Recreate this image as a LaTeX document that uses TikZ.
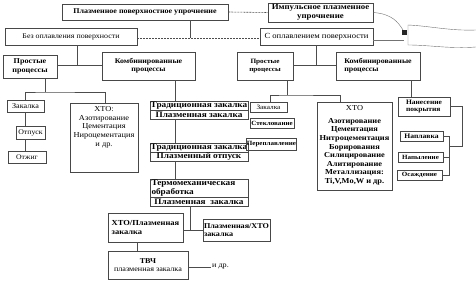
\documentclass[tikz,border=0pt]{standalone}
\usepackage{fontspec}
\setmainfont[FakeStretch=1.1]{Liberation Serif}
\newcommand\F[1]{\fontsize{#1}{\the\dimexpr #1pt*115/100\relax}\selectfont}
\newcommand\FB[1]{\fontsize{#1}{\the\dimexpr #1pt*115/100\relax}\selectfont\bfseries}
\begin{document}
\begin{tikzpicture}[x=1pt,y=-1pt,
  box/.style={draw=black!72, line width=0.9pt, inner sep=0.3pt, align=center},
  conn/.style={draw=black!70, line width=0.6pt},
  dconn/.style={conn, dash pattern=on 2pt off 1pt},
  scrib/.style={draw=black!55, line width=0.4pt}]
\fill[white] (0,0) rectangle (476,281);
\useasboundingbox (0,0) rectangle (476,281);

% top level
\node[box, font=\FB{7.3}, minimum width=166pt, minimum height=16pt] (top) at (145,12) {Плазменное поверхностное упрочнение};
\node[box, font=\FB{8}, minimum width=105pt, minimum height=19pt] (imp) at (320.5,12.5) {Импульсное плазменное\\упрочнение};
\node[box, font=\F{7.2}, minimum width=132pt, minimum height=17pt] (bez) at (71,36.5) {Без оплавления поверхности};
\node[box, font=\F{7.8}, minimum width=113pt, minimum height=17pt] (sopl) at (316.5,36.5) {С оплавлением поверхности};

\draw[dconn] (top.east) -- (imp.west);
\coordinate (j1) at (190,38);
\draw[conn] (top.south -| j1) -- (j1);
\draw[dconn] (bez.east |- j1) -- (sopl.west |- j1);

% second level
\node[box, font=\FB{7.4}, minimum width=54pt, minimum height=23pt] (lprost) at (30,66.5) {Простые\\процессы};
\node[box, font=\FB{7.2}, minimum width=93pt, minimum height=28pt] (lkomb) at (148.5,66) {Комбинированные\\процессы};
\node[box, font=\FB{6.6}, minimum width=56pt, minimum height=28pt] (rprost) at (265,66) {Простые\\процессы};
\node[box, font=\FB{7.2}, minimum width=84pt, minimum height=28pt, align=left] (rkomb) at (378,66) {Комбинированные\\процессы};

\coordinate (j2) at (77,65);
\draw[conn] (bez.south -| j2) -- (j2);
\draw[conn] (lprost.east |- j2) -- (lkomb.west |- j2);
\coordinate (j3) at (316,65);
\draw[conn] (sopl.south -| j3) -- (j3);
\draw[conn] (rprost.east |- j3) -- (rkomb.west |- j3);

% left simple processes
\node[box, font=\F{7.4}, minimum width=37pt, minimum height=12pt] (lzak) at (25.5,106) {Закалка};
\node[box, font=\F{7.1}, minimum width=29pt, minimum height=13pt] (lotp) at (30.5,132.5) {Отпуск};
\node[box, font=\F{7}, minimum width=38pt, minimum height=12pt] (lotzh) at (27,157) {Отжиг};
\node[box, minimum width=68pt, minimum height=69pt,
      label={[anchor=north, align=center, inner sep=0pt, yshift=-4pt, font=\fontsize{7.6}{8.6}\selectfont]north:ХТО:\\Азотирование\\Цементация\\Нироцементация\\и др.}] (lxto) at (104,137.5) {};

\coordinate (j4) at (45,92);
\draw[conn] (lprost.south -| j4) -- (j4);
\draw[conn] (lzak.north -| 25,0) |- (j4) -| (lxto.north -| 105,0);
\draw[conn] (lzak.south -| 25,0) -- (lotp.north -| 25,0);
\draw[conn] (lotp.south -| 25,0) -- (lotzh.north -| 25,0);

% combined stacks
\node[box, font=\FB{8.4}, minimum width=98pt, minimum height=9pt] (t1a) at (199,105.5) {Традиционная закалка};
\node[box, font=\FB{8.4}, minimum width=98pt, minimum height=9pt] (t1b) at (199,114.5) {Плазменная закалка};
\node[box, font=\FB{8.4}, minimum width=98pt, minimum height=9pt] (t2a) at (199,147.5) {Традиционная закалка};
\node[box, font=\FB{8.4}, minimum width=98pt, minimum height=9pt] (t2b) at (199,156.5) {Плазменный отпуск};
\node[box, font=\fontsize{8.4}{8.6}\selectfont\bfseries, minimum width=98pt, minimum height=18pt, align=left, text width=95pt] (t3a) at (199,188) {Термомеханическая\\обработка};
\node[box, font=\FB{8.4}, minimum width=98pt, minimum height=9pt] (t3b) at (199,201.5) {Плазменная\ \ закалка};

\draw[conn] (lkomb.south -| 175,0) -- (t1a.north -| 175,0);
\draw[conn] (t1b.south -| 175,0) -- (t2a.north -| 175,0);
\draw[conn] (t2b.south -| 175,0) -- (t3a.north -| 175,0);

\node[box, font=\FB{7.7}, minimum width=75pt, minimum height=29pt, align=left] (xtopl) at (145.5,227.5) {ХТО/Плазменная\\закалка};
\node[box, font=\FB{7.4}, minimum width=67pt, minimum height=22pt, align=left] (plxto) at (236.5,230) {Плазменная/ХТО\\закалка};
\node[box, font=\FB{7.4}, minimum width=80pt, minimum height=28pt] (tvch) at (148,265) {ТВЧ\\\mdseries плазменная закалка};
\node[font=\F{7.4}, inner sep=1pt, anchor=west] (idr) at (211,267) {и др.};

\coordinate (j5) at (190,230);
\draw[conn] (t3b.south -| j5) -- (j5);
\draw[conn] (xtopl.east |- j5) -- (plxto.west |- j5);
\draw[conn] (xtopl.south -| 137,0) -- (tvch.north -| 137,0);
\draw[conn] (tvch.east |- idr) -- (idr.west);

% right simple processes
\node[box, font=\F{6.6}, minimum width=37pt, minimum height=10pt] (rzak) at (268.5,107) {Закалка};
\node[box, font=\FB{6.4}, minimum width=44pt, minimum height=10pt] (rstek) at (272,123) {Стеклование};
\node[box, font=\FB{6.4}, minimum width=47pt, minimum height=12pt] (rpere) at (271.5,144) {Переплавление};
\node[box, minimum width=75pt, minimum height=88pt,
      label={[anchor=north, align=center, inner sep=0pt, yshift=-4pt, font=\fontsize{7.6}{8.6}\selectfont]north:ХТО\\[4pt]\bfseries Азотирование\\\bfseries Цементация\\\bfseries Нитроцементация\\\bfseries Борирования\\\bfseries Силицирование\\\bfseries Алитирование\\\bfseries Металлизация:\\\bfseries Ti,V,Mo,W и др.}] (rxto) at (354.5,146) {};

\coordinate (j6) at (287,95);
\draw[conn] (rprost.south -| j6) -- (j6);
\draw[conn] (rzak.north -| 270,0) |- (j6) -| (rxto.north -| 340,0);

% right combined
\node[box, font=\FB{6.8}, minimum width=52pt, minimum height=19pt, align=left] (rnan) at (424,106.5) {Нанесение\\покрытия};
\node[box, font=\FB{6.9}, minimum width=43pt, minimum height=10pt] (rnapl) at (421.5,136) {Наплавка};
\node[box, font=\FB{6.4}, minimum width=45pt, minimum height=10pt] (rnapy) at (420.5,157) {Напыление};
\node[box, font=\FB{6.4}, minimum width=45pt, minimum height=10pt] (rosa) at (419.5,175) {Осаждение};

\draw[conn] (rkomb.south -| 411,0) -- (rnan.north -| 411,0);
\coordinate (j7) at (449,146);
\draw[conn] (rnan.east) -- ++(12,0) |- (j7);
\draw[conn] (rnapl.east) -| (rosa.east -| j7) -- (rosa.east);
\draw[conn] (rnapy.east -| j7) -- (rnapy.east);

% scan scribble at top right
\coordinate (s1) at (403,30);
\coordinate (s2) at (404,40);
\draw[scrib] (imp.east) .. controls (392,14) and (398,22) .. (s1);
\draw[scrib] (sopl.east |- s2) -- (s2);
\fill[black!85] (402,30) rectangle (407,35);
\draw[scrib] (476,30) .. controls (450,31) and (430,26) .. (408,25) -- (408,45) .. controls (430,45) and (450,49) .. (476,47);
\end{tikzpicture}
\end{document}
